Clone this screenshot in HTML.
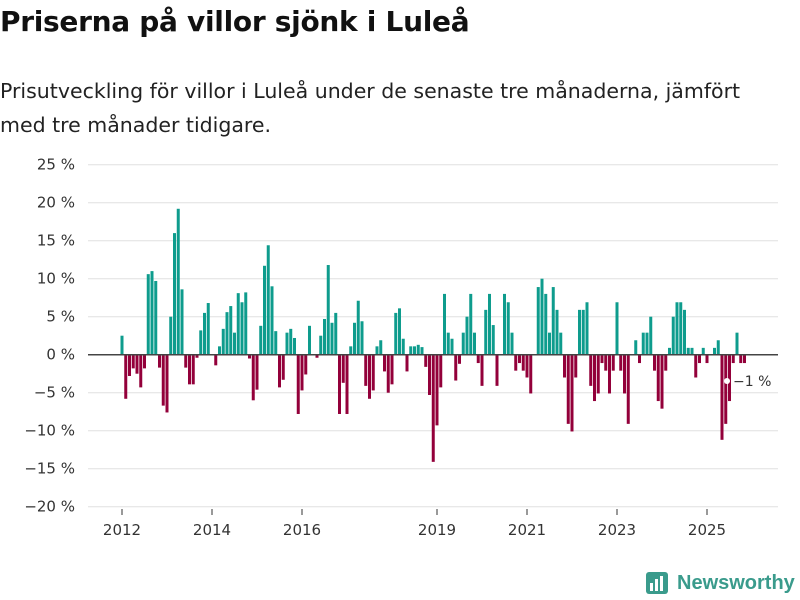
<!DOCTYPE html>
<html><head><meta charset="utf-8"><style>
body{margin:0;background:#fff;font-family:"DejaVu Sans",sans-serif;}
#wrap{position:relative;width:800px;height:600px;overflow:hidden;}
h1{position:absolute;left:0;top:5px;margin:0;font-size:28px;font-weight:bold;color:#111;letter-spacing:-0.3px;}
.sub{position:absolute;left:0;top:74px;margin:0;font-size:20.5px;line-height:34px;color:#222;width:780px;}
svg{position:absolute;left:0;top:0;}
.logo{position:absolute;left:646px;top:570px;display:flex;align-items:center;font-family:"Liberation Sans",sans-serif;font-size:20px;font-weight:bold;color:#3a9b8c;}
</style></head><body><div id="wrap">
<h1>Priserna på villor sjönk i Luleå</h1>
<p class="sub">Prisutveckling för villor i Luleå under de senaste tre månaderna, jämfört med tre månader tidigare.</p>
<svg id="chart" width="800" height="600"></svg>
<div class="logo"><svg width="24" height="26" style="position:static;margin-right:7px"><rect x="0" y="2" width="22" height="22" rx="3" fill="#3a9b8c"/><rect x="4" y="13" width="3" height="8" fill="#fff"/><rect x="9" y="9" width="3" height="12" fill="#fff"/><rect x="14" y="6" width="3" height="15" fill="#fff"/></svg>Newsworthy</div>
</div>
<script>
const startYear = 2012;
const values = [
2.5,-5.8,-2.8,-1.8,-2.5,-4.3,-1.8,10.6,11.0,9.7,-1.7,-6.7,
-7.6,5.0,16.0,19.2,8.6,-1.7,-3.9,-3.9,-0.4,3.2,5.5,6.8,
0,-1.4,1.1,3.4,5.6,6.4,2.9,8.1,6.9,8.2,-0.5,-6.0,
-4.6,3.8,11.7,14.4,9.0,3.1,-4.3,-3.3,2.9,3.4,2.2,-7.8,
-4.7,-2.6,3.8,0,-0.4,2.5,4.7,11.8,4.2,5.5,-7.8,-3.7,
-7.8,1.1,4.2,7.1,4.4,-4.1,-5.8,-4.7,1.1,1.9,-2.2,-5.0,
-3.9,5.5,6.1,2.1,-2.2,1.1,1.1,1.3,1.0,-1.6,-5.3,-14.1,
-9.3,-4.3,8.0,2.9,2.1,-3.4,-1.2,2.9,5.0,8.0,2.9,-1.1,
-4.1,5.9,8.0,3.9,-4.1,0,8.0,6.9,2.9,-2.1,-1.1,-2.1,
-3.0,-5.1,0,8.9,10.0,8.0,2.9,8.9,5.9,2.9,-3.0,-9.1,
-10.1,-3.0,5.9,5.9,6.9,-4.1,-6.1,-5.1,-1.1,-2.1,-5.1,-2.1,
6.9,-2.1,-5.1,-9.1,0,1.9,-1.1,2.9,2.9,5.0,-2.1,-6.1,
-7.1,-2.1,0.9,5.0,6.9,6.9,5.9,0.9,0.9,-3.0,-1.1,0.9,
-1.1,0,0.9,1.9,-11.2,-9.1,-6.1,-1.1,2.9,-1.1,-1.1];
const yTicks = [25,20,15,10,5,0,-5,-10,-15,-20];
const xTickYears = [2012,2014,2016,2019,2021,2023,2025];
const lastLabel = "−1 %";

const NS="http://www.w3.org/2000/svg";
const svg=document.getElementById('chart');
const y=v=>354.7-v*7.6;
const x=m=>122+m*3.75;
const xYear=yr=>x((yr-startYear)*12);
const FF='DejaVu Sans, sans-serif';
function mk(t,a){const e=document.createElementNS(NS,t);for(const k in a)e.setAttribute(k,a[k]);svg.appendChild(e);return e;}
yTicks.forEach(t=>{
  const g=mk('line',{x1:88,x2:778,y1:y(t),y2:y(t),stroke:'#e0e0e0','stroke-width':1});
  
  
  const tx=mk('text',{x:75,y:y(t)+5,'text-anchor':'end','font-size':15,fill:'#333','font-family':FF});
  tx.textContent=(t<0?'−'+(-t):t)+' %';
  
  
});
values.forEach((v,i)=>{
  if(v===0)return;
  const r=mk('rect',{x:x(i)-1.5,width:3,y:Math.min(y(v),y(0)),height:Math.abs(y(v)-y(0)),fill:v>0?'#0e9c8d':'#93003a'});
  
  
});
const zl=mk('line',{x1:88,x2:778,y1:y(0),y2:y(0),stroke:'#444','stroke-width':1.5});


xTickYears.forEach(yr=>{
  const l=mk('line',{x1:xYear(yr),x2:xYear(yr),y1:509,y2:515,stroke:'#333','stroke-width':1});
  
  
  const t=mk('text',{x:xYear(yr),y:535,'text-anchor':'middle','font-size':15,fill:'#333','font-family':FF});
  t.textContent=yr;
  
  
});
const dot=mk('circle',{cx:727,cy:381,r:3,fill:'#fff'});


const lab=mk('text',{x:733,y:386,'font-size':14,fill:'#333','font-family':FF});
lab.textContent=lastLabel;


</script></body></html>
